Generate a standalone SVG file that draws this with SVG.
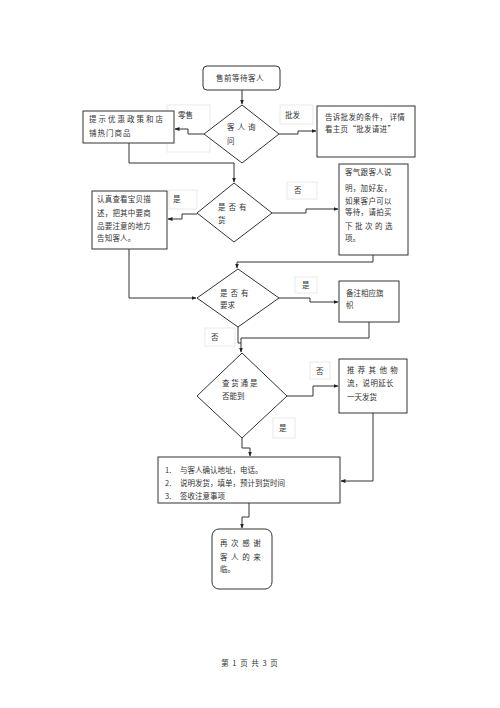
<svg xmlns="http://www.w3.org/2000/svg" width="500" height="708" viewBox="0 0 500 708">
<style>
.n{fill:#fff;stroke:#333;stroke-width:1}
.lb{fill:#fff;stroke:#e4e4e4;stroke-width:0.8}
.c{fill:none;stroke:#333;stroke-width:1}
text{font-family:"Noto Sans CJK SC","Noto Sans",sans-serif;font-size:7.5px;fill:#333}
</style>
<defs>
<marker id="a" viewBox="0 0 10 10" refX="9" refY="5" markerWidth="5" markerHeight="5" orient="auto"><path d="M0,1 L10,5 L0,9 Z" fill="#222"/></marker>
</defs>
<rect width="500" height="708" fill="#fff"/>
<g id="labels">
<rect class="lb" x="167" y="105" width="43" height="47"/>
<rect class="lb" x="280" y="105" width="33" height="19"/>
<rect class="lb" x="169" y="190" width="28" height="19"/>
<rect class="lb" x="287" y="182" width="30" height="17"/>
<rect class="lb" x="295" y="277" width="22" height="16"/>
<rect class="lb" x="205" y="328" width="30" height="18"/>
<rect class="lb" x="310" y="362" width="20" height="17"/>
<rect class="lb" x="273" y="418" width="22" height="20"/>
<text x="178" y="118">零售</text>
<text x="285" y="118">批发</text>
<text x="173" y="202">是</text>
<text x="294" y="193">否</text>
<text x="302" y="288">是</text>
<text x="211" y="340">否</text>
<text x="316" y="374">否</text>
<text x="279" y="431">是</text>
</g>
<g id="connectors">
<path class="c" d="M242,90 V104" marker-end="url(#a)"/>
<path class="c" d="M204,134 H188 V129 H175" marker-end="url(#a)"/>
<path class="c" d="M279,134 H298 V131 H316" marker-end="url(#a)"/>
<path class="c" d="M129,143 V163 H234 V182" marker-end="url(#a)"/>
<path class="c" d="M197,214 H182 V219 H168" marker-end="url(#a)"/>
<path class="c" d="M272,213 H306 V209 H338" marker-end="url(#a)"/>
<path class="c" d="M373,255 V262 H237 V268" marker-end="url(#a)"/>
<path class="c" d="M129,249 V298 H196" marker-end="url(#a)"/>
<path class="c" d="M279,298 H310 V302 H338" marker-end="url(#a)"/>
<path class="c" d="M238,327 V343 H241"/>
<path class="c" d="M369,322 V338 H241 V352" marker-end="url(#a)"/>
<path class="c" d="M287,396 H313 V386 H338" marker-end="url(#a)"/>
<path class="c" d="M242,437 V448 H250 V456" marker-end="url(#a)"/>
<path class="c" d="M373,413 V481 H341" marker-end="url(#a)"/>
<path class="c" d="M249,503 V517 H242 V528" marker-end="url(#a)"/>
</g>
<g id="start">
<rect class="n" x="203" y="66" width="77" height="24" rx="4"/>
<text x="216" y="81" letter-spacing="0.5">售前等待客人</text>
</g>
<g id="ask">
<polygon class="n" points="242,105 279,134 242,163 204,134"/>
<text x="227" y="130" letter-spacing="3">客人询</text>
<text x="227" y="144">问</text>
</g>
<g id="retail">
<rect class="n" x="83" y="111" width="91" height="32"/>
<text x="89" y="122" letter-spacing="2">提示优惠政策和店</text>
<text x="89" y="136" letter-spacing="1">铺热门商品</text>
</g>
<g id="wholesale">
<rect class="n" x="317" y="106" width="98" height="51"/>
<text x="325" y="120" letter-spacing="0.3">告诉批发的条件， 详情</text>
<text x="325" y="132" letter-spacing="0.3">看主页“批发请进”</text>
</g>
<g id="stock">
<polygon class="n" points="234,183 272,213 234,242 197,213"/>
<text x="218" y="210" letter-spacing="3">是否有</text>
<text x="218" y="223">货</text>
</g>
<g id="instock">
<rect class="n" x="92" y="191" width="75" height="58"/>
<text x="97" y="202" letter-spacing="0.2">认真查看宝贝描</text>
<text x="97" y="216" letter-spacing="0.2">述，把其中要商</text>
<text x="97" y="229" letter-spacing="0.2">品要注意的地方</text>
<text x="97" y="241" letter-spacing="0.2">告知客人。</text>
</g>
<g id="nostock">
<rect class="n" x="339" y="164" width="69" height="91"/>
<text x="345" y="175" letter-spacing="0.3">客气跟客人说</text>
<text x="345" y="191" letter-spacing="0.3">明，加好友，</text>
<text x="345" y="204" letter-spacing="0.3">如果客户可以</text>
<text x="345" y="215" letter-spacing="0.3">等待，请拍买</text>
<text x="345" y="229" letter-spacing="2.5">下批次的选</text>
<text x="345" y="241">项。</text>
</g>
<g id="require">
<polygon class="n" points="238,269 279,298 238,327 197,298"/>
<text x="220" y="296" letter-spacing="3">是否有</text>
<text x="220" y="308">要求</text>
</g>
<g id="note">
<rect class="n" x="339" y="281" width="60" height="41"/>
<text x="346" y="296">备注相应旗</text>
<text x="346" y="308">帜</text>
</g>
<g id="logistics">
<polygon class="n" points="242,353 287,396 242,438 197,396"/>
<text x="222" y="386" letter-spacing="1.8">查货通是</text>
<text x="222" y="399">否能到</text>
</g>
<g id="other">
<rect class="n" x="339" y="359" width="68" height="54"/>
<text x="347" y="373" letter-spacing="3.3">推荐其他物</text>
<text x="347" y="386" letter-spacing="0.3">流，说明延长</text>
<text x="347" y="400">一天发货</text>
</g>
<g id="confirm">
<rect class="n" x="158" y="457" width="182" height="46"/>
<text x="165" y="473">1.</text>
<text x="180" y="473">与客人确认地址，电话。</text>
<text x="165" y="486">2.</text>
<text x="180" y="486">说明发货，填单，预计到货时间</text>
<text x="165" y="499">3.</text>
<text x="180" y="499">签收注意事项</text>
</g>
<g id="thanks">
<rect class="n" x="212" y="529" width="60" height="60" rx="7"/>
<text x="220" y="546" letter-spacing="3.6">再次感谢</text>
<text x="220" y="560" letter-spacing="3.6">客人的来</text>
<text x="220" y="572">临。</text>
</g>
<text x="250" y="666" text-anchor="middle" font-size="6.5" letter-spacing="1">第 1 页 共 3 页</text>
</svg>
